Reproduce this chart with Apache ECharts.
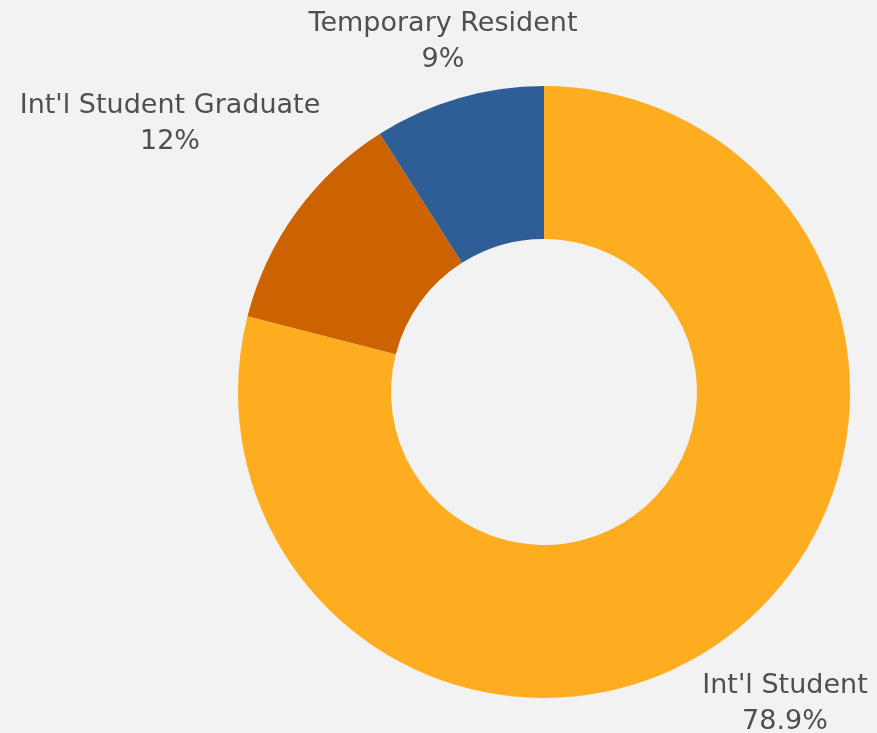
<!DOCTYPE html>
<html>
<head>
<meta charset="utf-8">
<script src="https://cdn.jsdelivr.net/npm/echarts@6/dist/echarts.min.js"></script>
<style>
  html, body { margin: 0; padding: 0; background: #f2f2f2; }
  #chart { width: 877px; height: 733px; }
</style>
</head>
<body>
<div id="chart"></div>
<script>
  // data
  const categories = ["Int'l Student", "Int'l Student Graduate", "Temporary Resident"];
  const values = [78.9, 12, 9];
  const colors = ["#FDAD1F", "#CC6200", "#2D5F96"];

  // label centres (px)
  const labelPos = [[785, 704], [170, 124], [443, 42]];

  const myChart = echarts.init(document.getElementById("chart"));

  const option = {
    backgroundColor: "#f2f2f2",
    animation: false,
    series: [
      {
        type: "pie",
        center: [544, 392],
        radius: [153, 306],
        startAngle: 90,
        clockwise: true,
        avoidLabelOverlap: false,
        label: {
          show: true,
          position: "outside",
          formatter: "{b}\n{c}%",
          color: "#4b5152",
          fontFamily: "DejaVu Sans",
          fontSize: 27,
          lineHeight: 36,
          align: "center",
          verticalAlign: "middle"
        },
        labelLine: { show: false },
        labelLayout: function (params) {
          const p = labelPos[params.dataIndex];
          return { x: p[0], y: p[1], align: "center", verticalAlign: "middle" };
        },
        itemStyle: { borderWidth: 0 },
        emphasis: { disabled: true },
        data: categories.map((name, i) => ({
          name: name,
          value: values[i],
          itemStyle: { color: colors[i] }
        }))
      }
    ]
  };

  myChart.setOption(option);
</script>
</body>
</html>
